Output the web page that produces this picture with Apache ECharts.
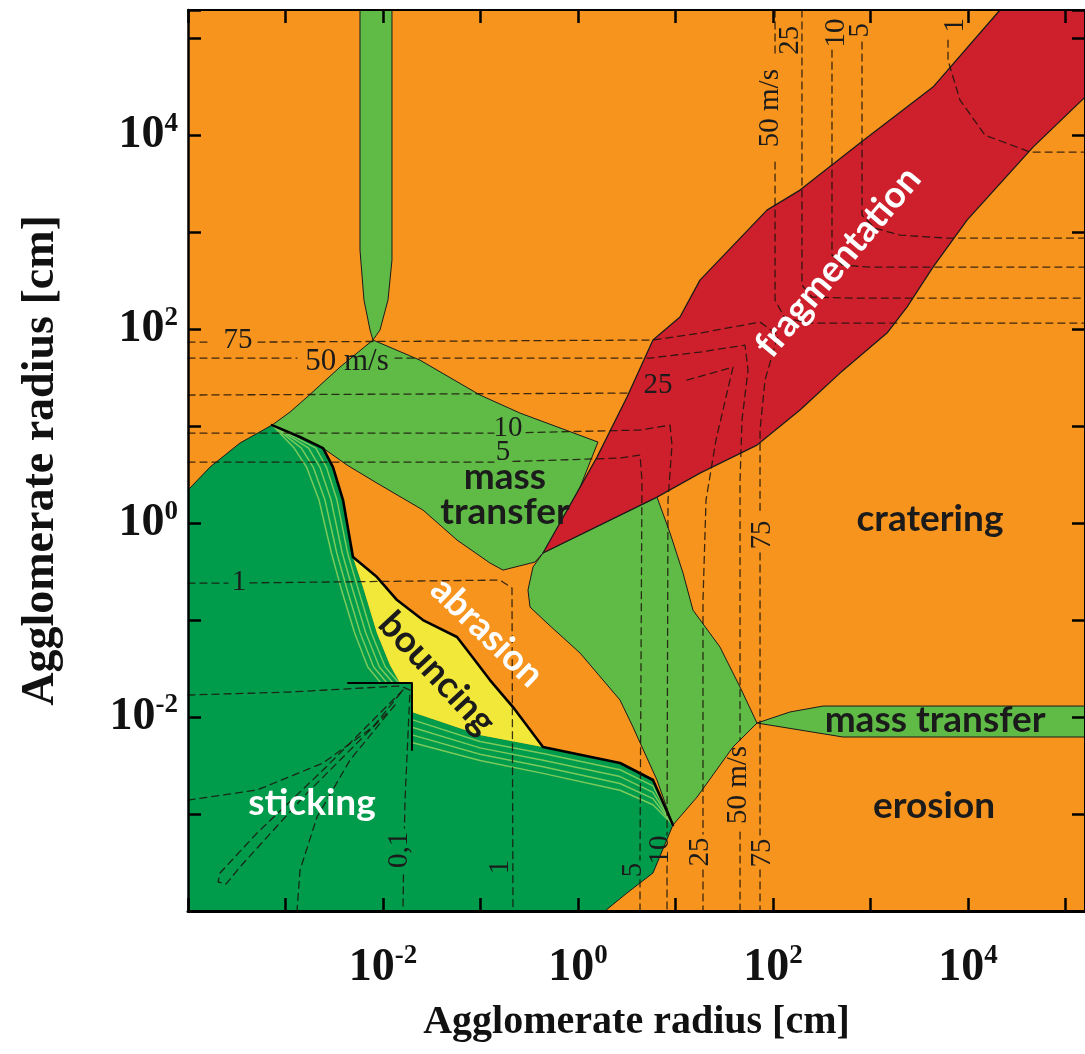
<!DOCTYPE html>
<html><head><meta charset="utf-8">
<script src="https://cdn.jsdelivr.net/npm/echarts@6.0.0/dist/echarts.min.js"></script>
<style>html,body{margin:0;padding:0;background:#fff}#c{width:1085px;height:1054px}</style>
</head><body><div id="c"></div>
<script>
// All coordinates are log10(radius / cm)
const X_RANGE = [-4, 5.2];
const Y_RANGE = [-4, 5.29];
const xTickExponents = [-2, 0, 2, 4];
const yTickExponents = [-2, 0, 2, 4];

// Regions (polygons)
const massTransferColumn = [[-2.236,5.29],[-2.236,2.814],[-2.195,2.299],[-2.133,1.99],[-2.103,1.887],[-2.031,1.99],[-1.949,2.299],[-1.908,2.711],[-1.908,5.29]];
const massTransferUpper = [[-2.103,1.887],[-1.621,1.68],[-1.005,1.32],[-0.595,1.134],[0.205,0.835],[-0.031,0.237],[-0.359,-0.309],[-0.441,-0.402],[-0.769,-0.485],[-0.903,-0.412],[-1.241,-0.175],[-1.59,0.134],[-2.062,0.412],[-2.369,0.598],[-2.615,0.773],[-2.851,0.887],[-3.138,1.01],[-2.954,1.144],[-2.779,1.299],[-2.441,1.608]];
const massTransferLower = [[-0.359,-0.309],[0.81,0.268],[0.944,-0.103],[1.077,-0.515],[1.179,-0.897],[1.456,-1.278],[1.662,-1.691],[1.836,-2.062],[1.59,-2.309],[1.221,-2.825],[0.974,-3.113],[0.81,-2.649],[0.564,-2.103],[0.431,-1.825],[0.021,-1.34],[-0.318,-1.031],[-0.492,-0.866],[-0.513,-0.691],[-0.462,-0.454]];
const massTransferRight = [[1.836,-2.062],[2.174,-1.948],[2.513,-1.887],[5.2,-1.887],[5.2,-2.206],[2.718,-2.206],[2.277,-2.134]];
const stickingRegion = [[-4,-4],[-4,0.34],[-3.774,0.577],[-3.467,0.825],[-3.138,1.01],[-2.851,0.887],[-2.615,0.773],[-2.513,0.577],[-2.41,0.237],[-2.308,-0.351],[-2.205,-0.66],[-2.062,-1.134],[-1.928,-1.464],[-1.826,-1.649],[-1.703,-1.649],[-1.703,-1.948],[-1.005,-2.186],[-0.359,-2.309],[0.431,-2.474],[0.769,-2.649],[0.974,-3.113],[0.769,-3.608],[0.503,-3.814],[0.277,-4]];
const bouncingRegion = [[-2.308,-0.351],[-2.062,-0.557],[-1.856,-0.794],[-1.59,-1.0],[-1.241,-1.175],[-1.138,-1.309],[-0.903,-1.619],[-0.667,-1.897],[-0.359,-2.309],[-1.005,-2.186],[-1.703,-1.948],[-1.703,-1.649],[-1.826,-1.649],[-1.928,-1.464],[-2.062,-1.134],[-2.205,-0.66]];
const fragmentationRegion = [[-0.359,-0.309],[0.195,0.68],[0.503,1.299],[0.769,1.887],[1.046,2.124],[1.251,2.505],[1.938,3.227],[2.277,3.433],[2.892,3.918],[3.641,4.495],[4.328,5.29],[5.2,5.29],[5.2,4.392],[4.667,3.876],[3.99,3.124],[3.641,2.639],[3.374,2.227],[3.169,1.959],[2.687,1.546],[2.277,1.165],[1.836,0.804],[1.251,0.515],[0.81,0.268]];

// Boundary lines
const abrasionBoundary = [[-3.138,1.01],[-2.851,0.887],[-2.615,0.773],[-2.513,0.577],[-2.41,0.237],[-2.308,-0.351],[-2.062,-0.557],[-1.856,-0.794],[-1.59,-1.0],[-1.241,-1.175],[-1.138,-1.309],[-0.903,-1.619],[-0.667,-1.897],[-0.359,-2.309],[0.431,-2.474],[0.769,-2.649],[0.974,-3.113]];
const stickingEdgeLeft = [[-4,0.34],[-3.774,0.577],[-3.467,0.825],[-3.138,1.01]];
const stickingEdgeBottom = [[0.974,-3.113],[0.769,-3.608],[0.503,-3.814],[0.277,-4]];
const notchEdge = [[-2.359,-1.649],[-1.703,-1.649],[-1.703,-2.34]];

// Transition hatching (light stripes inside the sticking region)
const stripeUpper1 = [[-3.138,1.01],[-2.911,0.773],[-2.784,0.577],[-2.656,0.237],[-2.529,-0.309],[-2.425,-0.691],[-2.291,-1.134],[-2.156,-1.485],[-2.021,-1.649]];
const stripeUpper2 = [[-3.138,1.01],[-2.837,0.773],[-2.716,0.577],[-2.595,0.237],[-2.474,-0.309],[-2.367,-0.691],[-2.234,-1.134],[-2.096,-1.485],[-1.959,-1.649]];
const stripeUpper3 = [[-3.138,1.01],[-2.763,0.773],[-2.648,0.577],[-2.533,0.237],[-2.418,-0.309],[-2.31,-0.691],[-2.176,-1.134],[-2.037,-1.485],[-1.897,-1.649]];
const stripeUpper4 = [[-3.138,1.01],[-2.689,0.773],[-2.581,0.577],[-2.472,0.237],[-2.363,-0.309],[-2.252,-0.691],[-2.119,-1.134],[-1.977,-1.485],[-1.836,-1.649]];
const stripeLower1 = [[-1.703,-2.027],[-1.005,-2.252],[-0.359,-2.377],[0.431,-2.544],[0.769,-2.71],[0.974,-3.113]];
const stripeLower2 = [[-1.703,-2.105],[-1.005,-2.318],[-0.359,-2.445],[0.431,-2.614],[0.769,-2.777],[0.974,-3.113]];
const stripeLower3 = [[-1.703,-2.184],[-1.005,-2.384],[-0.359,-2.513],[0.431,-2.685],[0.769,-2.841],[0.974,-3.113]];
const stripeLower4 = [[-1.703,-2.262],[-1.005,-2.449],[-0.359,-2.581],[0.431,-2.755],[0.769,-2.905],[0.974,-3.113]];

// Collision-velocity contours (dashed), split where labels sit
const v75Lower = [[[-4,1.866],[-3.754,1.866]],[[-3.282,1.866],[0.769,1.887],[1.251,1.959],[1.867,2.072],[2.051,1.938],[1.918,1.474],[1.867,0.959],[1.867,0.082]],[[1.867,-0.309],[1.867,-3.216]],[[1.867,-3.577],[1.867,-4]]];
const v50Lower = [[[-4,1.701],[-2.882,1.701]],[[-1.877,1.701],[0.738,1.701],[1.251,1.763],[1.713,1.835],[1.744,1.577],[1.682,1.062],[1.662,0.443],[1.662,-2.237]],[[1.662,-3.186],[1.662,-4]]];
const v25Lower = [[[-4,1.32],[0.533,1.34]],[[1.118,1.474],[1.59,1.608],[1.415,0.856],[1.313,0.237],[1.282,-0.794],[1.282,-3.206]],[[1.282,-3.577],[1.282,-4]]];
const v10Lower = [[[-4,0.928],[-0.862,0.928]],[[-0.533,0.933],[0.636,0.959],[0.944,1.01],[0.964,0.804],[0.923,0.237],[0.913,-3.216]],[[0.913,-3.536],[0.913,-4]]];
const v5Lower = [[[-4,0.629],[-0.862,0.629]],[[-0.667,0.635],[0.431,0.67],[0.636,0.701],[0.656,0.443],[0.636,-3.474]],[[0.636,-3.68],[0.636,-4]]];
const v1Lower = [[[-4,-0.619],[-3.59,-0.619]],[[-3.364,-0.617],[-0.8,-0.588],[-0.677,-0.67],[-0.667,-4]]];
const v01Lower = [[[-4,-1.773],[-2.954,-1.742],[-1.826,-1.68],[-1.723,-1.722],[-1.774,-2.856],[-1.78,-3.144]],[[-1.79,-3.629],[-1.795,-4]]];
const v1Upper = [[[3.795,4.979],[3.795,4.773],[3.918,4.361],[4.174,4.0],[4.636,3.825],[5.2,3.825]]];
const v5Upper = [[[2.913,4.959],[2.913,3.175],[3.046,3.041],[3.303,2.969],[3.785,2.938],[5.2,2.938]]];
const v10Upper = [[[2.605,4.876],[2.605,2.763],[2.708,2.66],[2.995,2.639],[5.2,2.639]]];
const v25Upper = [[[2.297,5.29],[2.297,2.454],[2.4,2.33],[2.79,2.32],[5.2,2.32]]];
const v50Upper = [[[2.021,5.29],[2.021,4.825]],[[2.021,3.722],[2.021,2.299],[2.123,2.113],[2.379,2.062],[5.2,2.062]]];
const slowA = [[[-4,-2.856],[-3.292,-2.753],[-2.615,-2.474],[-2.103,-2.103],[-1.795,-1.722]]];
const slowLoop = [[[-1.795,-1.722],[-2.615,-2.546],[-3.292,-3.196],[-3.672,-3.608],[-3.692,-3.701],[-3.61,-3.722],[-3.467,-3.546],[-2.779,-2.784],[-1.928,-1.928]]];
const slowB = [[[-1.877,-1.876],[-2.338,-2.443],[-2.677,-3.031],[-2.851,-3.577],[-2.882,-4]]];

// Text labels: [text, x, y]
const regionLabels = [
  ['mass\ntransfer', -0.749, 0.289],
  ['fragmentation', 2.667, 2.691],
  ['abrasion', -0.933, -1.124],
  ['bouncing', -1.446, -1.546],
  ['sticking', -2.728, -2.887],
  ['cratering', 3.61, 0.041],
  ['mass transfer', 3.662, -2.031],
  ['erosion', 3.651, -2.918]
];
const speedLabelsFlat = [
  ['75', -3.487, 1.887], ['50 m/s', -2.369, 1.66], ['10', -0.718, 0.979],
  ['5', -0.769, 0.732], ['25', 0.821, 1.423], ['1', -3.477, -0.608]
];
const speedLabelsVertical = [
  ['0,1', -1.836, -3.371], ['1', -0.8, -3.546], ['5', 0.564, -3.577], ['10', 0.841, -3.371],
  ['25', 1.251, -3.392], ['50 m/s', 1.641, -2.701], ['75', 1.887, -3.402], ['75', 1.887, -0.124],
  ['50 m/s', 1.969, 4.278], ['25', 2.174, 4.979], ['10', 2.646, 5.052], ['5', 2.892, 5.082], ['1', 3.867, 5.134]
];

// ---------------- styles ----------------
const C = {
  orange: '#F7941E', light: '#5FBA46', dark: '#019B4C', red: '#CE1F2C', yellow: '#F1E83A',
  stripe: '#7ACB5B', ink: '#1b1b1b'
};
const regionStyle = {
  'fragmentation': { fill: '#fff', rot: 50 },
  'abrasion': { fill: '#fff', rot: -44 },
  'bouncing': { fill: C.ink, rot: -47 },
  'sticking': { fill: '#fff', rot: 0 }
};

function polygon(pts, fill, stroke, lw, z) {
  return {
    type: 'custom', data: pts, z: z, silent: true, animation: false,
    renderItem: function (params, api) {
      if (params.dataIndex !== 0) return null;
      return { type: 'polygon', shape: { points: pts.map(p => api.coord(p)) },
        style: { fill: fill, stroke: stroke || null, lineWidth: lw || 0, lineJoin: 'round' } };
    }
  };
}
function line(pts, color, width, dash, z) {
  return { type: 'line', data: pts, symbol: 'none', silent: true, animation: false, z: z,
    lineStyle: { color: color, width: width, type: dash || 'solid', cap: 'round', join: 'round' } };
}
function dashedSegments(segs) {
  return segs.map(s => line(s, 'rgba(28,20,12,0.85)', 1.3, [7, 5], 7));
}
function texts(list, styleFn) {
  return {
    type: 'custom', data: list.map(l => [l[1], l[2]]), z: 9, silent: true, animation: false,
    renderItem: function (params, api) {
      const l = list[params.dataIndex];
      const c = api.coord([l[1], l[2]]);
      const st = styleFn(l);
      return { type: 'text', x: c[0], y: c[1], rotation: (st.rot || 0) * Math.PI / 180,
        style: { text: l[0], font: st.font, fill: st.fill, align: 'center', verticalAlign: 'middle', lineHeight: st.lh || undefined } };
    }
  };
}

const series = [
  polygon(massTransferColumn, C.light, C.ink, 1, 2),
  polygon(massTransferUpper, C.light, C.ink, 1, 2),
  polygon(massTransferLower, C.light, C.ink, 1, 2),
  polygon(massTransferRight, C.light, C.ink, 1, 2),
  polygon(stickingRegion, C.dark, null, 0, 3),
  polygon(bouncingRegion, C.yellow, null, 0, 3),
  polygon(fragmentationRegion, C.red, C.ink, 1.3, 4),
  line(stripeUpper1, C.stripe, 1.5, 'solid', 5),
  line(stripeUpper2, C.stripe, 1.5, 'solid', 5),
  line(stripeUpper3, C.stripe, 1.5, 'solid', 5),
  line(stripeUpper4, C.stripe, 1.5, 'solid', 5),
  line(stripeLower1, C.stripe, 1.5, 'solid', 5),
  line(stripeLower2, C.stripe, 1.5, 'solid', 5),
  line(stripeLower3, C.stripe, 1.5, 'solid', 5),
  line(stripeLower4, C.stripe, 1.5, 'solid', 5),
  line(stickingEdgeLeft, C.ink, 1, 'solid', 6),
  line(stickingEdgeBottom, C.ink, 1, 'solid', 6),
  line(abrasionBoundary, '#000', 2.6, 'solid', 6),
  line(notchEdge, '#000', 2, 'solid', 6)
].concat(
  dashedSegments(v75Lower), dashedSegments(v50Lower), dashedSegments(v25Lower), dashedSegments(v10Lower),
  dashedSegments(v5Lower), dashedSegments(v1Lower), dashedSegments(v01Lower),
  dashedSegments(v1Upper), dashedSegments(v5Upper), dashedSegments(v10Upper), dashedSegments(v25Upper), dashedSegments(v50Upper),
  dashedSegments(slowA), dashedSegments(slowLoop), dashedSegments(slowB),
  [
    texts(regionLabels, l => {
      const s = regionStyle[l[0]] || { fill: C.ink, rot: 0 };
      return { font: 'bold 37px Lato', fill: s.fill, rot: s.rot, lh: 35 };
    }),
    texts(speedLabelsFlat, l => ({ font: (l[0].length > 2 ? 31 : 29) + 'px "Liberation Serif"', fill: C.ink, rot: 0 })),
    texts(speedLabelsVertical, l => ({ font: '29px "Liberation Serif"', fill: C.ink, rot: 90 }))
  ]
);

function powLabel(list) {
  return function (v) {
    const r = Math.round(v);
    if (Math.abs(v - r) > 1e-6 || list.indexOf(r) < 0) return '';
    return '{b|10}{s|' + (r < 0 ? '-' + (-r) : r) + '}';
  };
}
const rich = {
  b: { fontFamily: 'Liberation Serif', fontWeight: 'bold', fontSize: 46, color: '#111', lineHeight: 50 },
  s: { fontFamily: 'Liberation Serif', fontWeight: 'bold', fontSize: 27, color: '#111', verticalAlign: 'top', lineHeight: 27 }
};
const tickStyle = { show: true, inside: true, length: 13, lineStyle: { color: '#000', width: 2.5 } };
function axisBase(range) {
  return { type: 'value', min: range[0], max: range[1], interval: 1, z: 10, splitLine: { show: false }, axisTick: tickStyle };
}

const option = {
  animation: false,
  backgroundColor: '#fff',
  grid: { left: 188, right: 0, top: 10, bottom: 143, show: true, backgroundColor: C.orange, borderWidth: 0,
    containLabel: false, outerBoundsMode: 'none' },
  xAxis: [
    Object.assign(axisBase(X_RANGE), {
      position: 'bottom', axisLine: { show: true, onZero: false, lineStyle: { color: '#000', width: 3 } },
      axisLabel: { margin: 32, formatter: powLabel(xTickExponents), rich: rich },
      name: 'Agglomerate radius [cm]', nameLocation: 'middle', nameGap: 92,
      nameTextStyle: { fontFamily: 'Liberation Serif', fontWeight: 'bold', fontSize: 40, color: '#111' }
    }),
    Object.assign(axisBase(X_RANGE), {
      position: 'top', axisLine: { show: true, onZero: false, lineStyle: { color: '#000', width: 2 } }, axisLabel: { show: false }
    })
  ],
  yAxis: [
    Object.assign(axisBase(Y_RANGE), {
      position: 'left', axisLine: { show: true, onZero: false, lineStyle: { color: '#000', width: 2.5 } },
      axisLabel: { margin: 10, formatter: powLabel(yTickExponents), rich: rich },
      name: 'Agglomerate radius [cm]', nameLocation: 'middle', nameGap: 124, nameRotate: 90,
      nameTextStyle: { fontFamily: 'Liberation Serif', fontWeight: 'bold', fontSize: 46, color: '#111' }
    }),
    Object.assign(axisBase(Y_RANGE), {
      position: 'right', axisLine: { show: true, onZero: false, lineStyle: { color: '#000', width: 2 } }, axisLabel: { show: false }
    })
  ],
  series: series
};
const chart = echarts.init(document.getElementById('c'), null, { renderer: 'canvas' });
chart.setOption(option);
</script></body></html>
